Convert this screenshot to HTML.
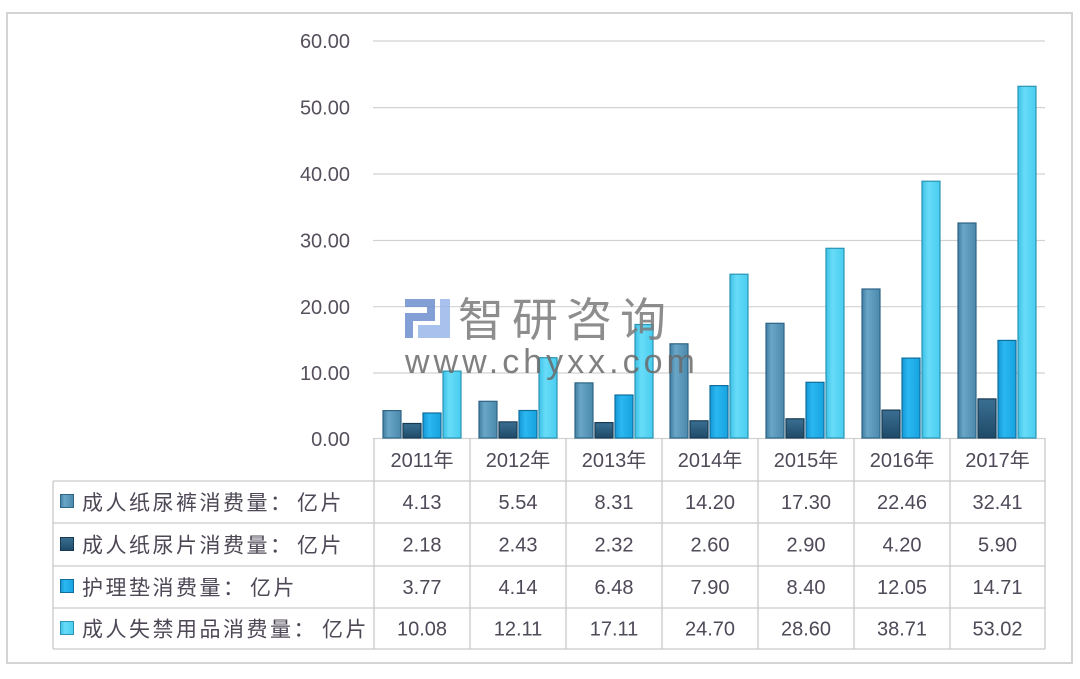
<!DOCTYPE html>
<html><head><meta charset="utf-8"><style>
html,body{margin:0;padding:0;background:#fff;}
svg{display:block;}
text{font-family:"Liberation Sans","Noto Sans CJK SC",sans-serif;}
</style></head><body>
<svg width="1080" height="679" viewBox="0 0 1080 679" xmlns="http://www.w3.org/2000/svg">
<defs>
<linearGradient id="g1" x1="0" x2="1" y1="0" y2="0"><stop offset="0" stop-color="#3f7ea3"/><stop offset="0.3" stop-color="#6aa6c6"/><stop offset="1" stop-color="#4a89ad"/></linearGradient>
<linearGradient id="g2" x1="0" x2="0" y1="0" y2="1"><stop offset="0" stop-color="#3a6f92"/><stop offset="1" stop-color="#1f4a68"/></linearGradient>
<linearGradient id="g3" x1="0" x2="1" y1="0" y2="0"><stop offset="0" stop-color="#1596d4"/><stop offset="0.35" stop-color="#2bb8f0"/><stop offset="1" stop-color="#16a2e0"/></linearGradient>
<linearGradient id="g4" x1="0" x2="1" y1="0" y2="0"><stop offset="0" stop-color="#3cc0e6"/><stop offset="0.35" stop-color="#68dcf8"/><stop offset="1" stop-color="#48cdef"/></linearGradient>
</defs>
<rect x="0" y="0" width="1080" height="679" fill="#fff"/>
<rect x="7" y="13" width="1065" height="650" fill="none" stroke="#d4d4d4" stroke-width="2"/>

<!-- gridlines -->
<g stroke="#d2d2d2" stroke-width="1.2">
<line x1="373" y1="41" x2="1045" y2="41"/>
<line x1="373" y1="107.6" x2="1045" y2="107.6"/>
<line x1="373" y1="174" x2="1045" y2="174"/>
<line x1="373" y1="240.5" x2="1045" y2="240.5"/>
<line x1="373" y1="306.7" x2="1045" y2="306.7"/>
<line x1="373" y1="373" x2="1045" y2="373"/>
<line x1="373" y1="438.5" x2="1045" y2="438.5"/>
</g>
<g font-size="20" fill="#564f5c" text-anchor="end">
<text x="350" y="48">60.00</text>
<text x="350" y="114.5">50.00</text>
<text x="350" y="181">40.00</text>
<text x="350" y="247.5">30.00</text>
<text x="350" y="314">20.00</text>
<text x="350" y="380">10.00</text>
<text x="350" y="446">0.00</text>
</g>

<!-- bars -->
<g stroke-width="1.2">
<!-- 2011 cx 422 -->
<rect x="383" y="410.6" width="18" height="27.4" fill="url(#g1)" stroke="#2e6486"/>
<rect x="403" y="423.5" width="18" height="14.5" fill="url(#g2)" stroke="#173a52"/>
<rect x="423" y="413" width="18" height="25" fill="url(#g3)" stroke="#0e6e9e"/>
<rect x="443" y="371.1" width="18" height="66.9" fill="url(#g4)" stroke="#2a94b4"/>
<!-- 2012 cx 517.8 -->
<rect x="479" y="401.3" width="18" height="36.7" fill="url(#g1)" stroke="#2e6486"/>
<rect x="499" y="421.9" width="18" height="16.1" fill="url(#g2)" stroke="#173a52"/>
<rect x="519" y="410.5" width="18" height="27.5" fill="url(#g3)" stroke="#0e6e9e"/>
<rect x="539" y="357.7" width="18" height="80.3" fill="url(#g4)" stroke="#2a94b4"/>
<!-- 2013 cx 613.6 -->
<rect x="575" y="382.9" width="18" height="55.1" fill="url(#g1)" stroke="#2e6486"/>
<rect x="595" y="422.6" width="18" height="15.4" fill="url(#g2)" stroke="#173a52"/>
<rect x="615" y="395" width="18" height="43" fill="url(#g3)" stroke="#0e6e9e"/>
<rect x="635" y="324.5" width="18" height="113.5" fill="url(#g4)" stroke="#2a94b4"/>
<!-- 2014 cx 709.5 -->
<rect x="670" y="343.8" width="18" height="94.2" fill="url(#g1)" stroke="#2e6486"/>
<rect x="690" y="420.8" width="18" height="17.2" fill="url(#g2)" stroke="#173a52"/>
<rect x="710" y="385.6" width="18" height="52.4" fill="url(#g3)" stroke="#0e6e9e"/>
<rect x="730" y="274.2" width="18" height="163.8" fill="url(#g4)" stroke="#2a94b4"/>
<!-- 2015 cx 805.4 -->
<rect x="766" y="323.3" width="18" height="114.7" fill="url(#g1)" stroke="#2e6486"/>
<rect x="786" y="418.8" width="18" height="19.2" fill="url(#g2)" stroke="#173a52"/>
<rect x="806" y="382.3" width="18" height="55.7" fill="url(#g3)" stroke="#0e6e9e"/>
<rect x="826" y="248.3" width="18" height="189.7" fill="url(#g4)" stroke="#2a94b4"/>
<!-- 2016 cx 901.2 -->
<rect x="862" y="289" width="18" height="149" fill="url(#g1)" stroke="#2e6486"/>
<rect x="882" y="410.1" width="18" height="27.9" fill="url(#g2)" stroke="#173a52"/>
<rect x="902" y="358.1" width="18" height="79.9" fill="url(#g3)" stroke="#0e6e9e"/>
<rect x="922" y="181.2" width="18" height="256.8" fill="url(#g4)" stroke="#2a94b4"/>
<!-- 2017 cx 997 -->
<rect x="958" y="223" width="18" height="215" fill="url(#g1)" stroke="#2e6486"/>
<rect x="978" y="398.9" width="18" height="39.1" fill="url(#g2)" stroke="#173a52"/>
<rect x="998" y="340.4" width="18" height="97.6" fill="url(#g3)" stroke="#0e6e9e"/>
<rect x="1018" y="86.3" width="18" height="351.7" fill="url(#g4)" stroke="#2a94b4"/>
</g>

<!-- watermark -->
<g opacity="0.85">
<rect x="405" y="299" width="30" height="8" fill="#6f8fcf"/>
<rect x="427" y="299" width="8" height="22" fill="#6f8fcf"/>
<rect x="405" y="313" width="22" height="8" fill="#6f8fcf"/>
<rect x="405" y="313" width="8" height="25" fill="#6f8fcf"/>
<rect x="418" y="325" width="32" height="13" fill="#9ab8ea"/>
<rect x="440" y="299" width="10" height="26" fill="#9ab8ea"/>
<text x="458" y="336" font-size="46" letter-spacing="8" fill="#7a7a7a">智研咨询</text>
<text x="405" y="373" font-size="34" letter-spacing="4" fill="#6a6a6a">www.chyxx.com</text>
</g>

<!-- table -->
<g stroke="#c9c9c9" stroke-width="1.3" fill="none">
<line x1="53" y1="481" x2="1045" y2="481"/>
<line x1="53" y1="523" x2="1045" y2="523"/>
<line x1="53" y1="566" x2="1045" y2="566"/>
<line x1="53" y1="608" x2="1045" y2="608"/>
<line x1="53" y1="649" x2="1045" y2="649"/>
<line x1="53" y1="481" x2="53" y2="649"/>
<line x1="374" y1="438" x2="374" y2="649"/>
<line x1="470" y1="438" x2="470" y2="649"/>
<line x1="566" y1="438" x2="566" y2="649"/>
<line x1="662" y1="438" x2="662" y2="649"/>
<line x1="758" y1="438" x2="758" y2="649"/>
<line x1="854" y1="438" x2="854" y2="649"/>
<line x1="950" y1="438" x2="950" y2="649"/>
<line x1="1045" y1="438" x2="1045" y2="649"/>
</g>
<g font-size="20" fill="#4f4958" text-anchor="middle">
<text x="422" y="467">2011年</text>
<text x="518" y="467">2012年</text>
<text x="614" y="467">2013年</text>
<text x="710" y="467">2014年</text>
<text x="806" y="467">2015年</text>
<text x="902" y="467">2016年</text>
<text x="997.5" y="467">2017年</text>

<text x="422" y="509">4.13</text>
<text x="518" y="509">5.54</text>
<text x="614" y="509">8.31</text>
<text x="710" y="509">14.20</text>
<text x="806" y="509">17.30</text>
<text x="902" y="509">22.46</text>
<text x="997.5" y="509">32.41</text>

<text x="422" y="551.5">2.18</text>
<text x="518" y="551.5">2.43</text>
<text x="614" y="551.5">2.32</text>
<text x="710" y="551.5">2.60</text>
<text x="806" y="551.5">2.90</text>
<text x="902" y="551.5">4.20</text>
<text x="997.5" y="551.5">5.90</text>

<text x="422" y="594">3.77</text>
<text x="518" y="594">4.14</text>
<text x="614" y="594">6.48</text>
<text x="710" y="594">7.90</text>
<text x="806" y="594">8.40</text>
<text x="902" y="594">12.05</text>
<text x="997.5" y="594">14.71</text>

<text x="422" y="635.5">10.08</text>
<text x="518" y="635.5">12.11</text>
<text x="614" y="635.5">17.11</text>
<text x="710" y="635.5">24.70</text>
<text x="806" y="635.5">28.60</text>
<text x="902" y="635.5">38.71</text>
<text x="997.5" y="635.5">53.02</text>
</g>

<!-- legend -->
<rect x="60.5" y="494.5" width="13" height="13" fill="url(#g1)" stroke="#2e6486"/>
<rect x="60.5" y="537.5" width="13" height="13" fill="url(#g2)" stroke="#173a52"/>
<rect x="60.5" y="579.5" width="13" height="13" fill="url(#g3)" stroke="#0e6e9e"/>
<rect x="60.5" y="621.5" width="13" height="13" fill="url(#g4)" stroke="#2a94b4"/>
<g font-size="21" fill="#4e4856" letter-spacing="2.5">
<text x="82" y="510">成人纸尿裤消费量：</text><text x="297" y="510">亿片</text>
<text x="82" y="552.5">成人纸尿片消费量：</text><text x="297" y="552.5">亿片</text>
<text x="82" y="595">护理垫消费量：</text><text x="250" y="595">亿片</text>
<text x="82" y="636.5">成人失禁用品消费量：</text><text x="322" y="636.5">亿片</text>
</g>
</svg>
</body></html>
